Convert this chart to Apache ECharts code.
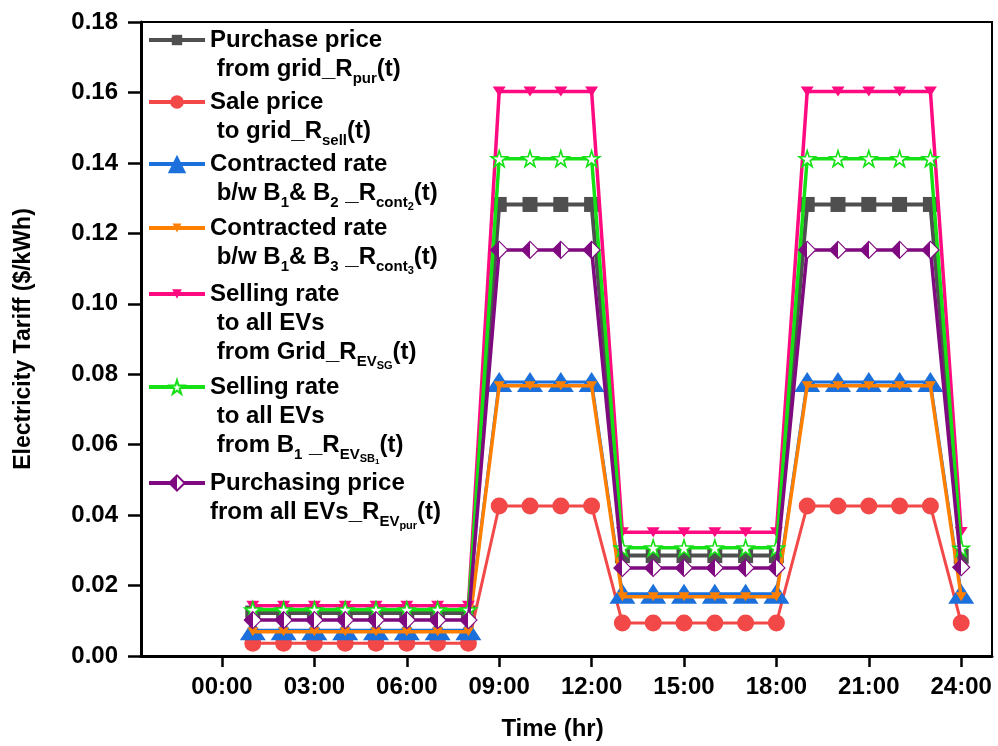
<!DOCTYPE html>
<html>
<head>
<meta charset="utf-8">
<title>Electricity Tariff</title>
<script src="https://cdn.jsdelivr.net/npm/echarts@6/dist/echarts.min.js"></script>
<style>
  html, body { margin: 0; padding: 0; background: #fff; }
  #chart { width: 998px; height: 746px; }
</style>
</head>
<body>
<div id="chart"></div>
<script>
// Hour of day for each tariff sample
const hours = [1, 2, 3, 4, 5, 6, 7, 8, 9, 10, 11, 12, 13, 14, 15, 16, 17, 18, 19, 20, 21, 22, 23, 24];
const hourTicks = [0, 3, 6, 9, 12, 15, 18, 21, 24];
const tariffTicks = [0, 0.02, 0.04, 0.06, 0.08, 0.10, 0.12, 0.14, 0.16, 0.18];

// Tariffs in $/kWh
const purchaseFromGrid = [0.0122, 0.0122, 0.0122, 0.0122, 0.0122, 0.0122, 0.0122, 0.0122,
  0.1282, 0.1282, 0.1282, 0.1282, 0.0285, 0.0285, 0.0285, 0.0285, 0.0285, 0.0285,
  0.1282, 0.1282, 0.1282, 0.1282, 0.1282, 0.0283];
const saleToGrid = [0.0036, 0.0036, 0.0036, 0.0036, 0.0036, 0.0036, 0.0036, 0.0036,
  0.0426, 0.0426, 0.0426, 0.0426, 0.0094, 0.0094, 0.0094, 0.0094, 0.0094, 0.0094,
  0.0426, 0.0426, 0.0426, 0.0426, 0.0426, 0.0094];
const contractB1B2 = [0.0073, 0.0073, 0.0073, 0.0073, 0.0073, 0.0073, 0.0073, 0.0073,
  0.0778, 0.0778, 0.0778, 0.0778, 0.0177, 0.0177, 0.0177, 0.0177, 0.0177, 0.0177,
  0.0778, 0.0778, 0.0778, 0.0778, 0.0778, 0.0177];
const contractB1B3 = [0.0069, 0.0069, 0.0069, 0.0069, 0.0069, 0.0069, 0.0069, 0.0069,
  0.0767, 0.0767, 0.0767, 0.0767, 0.0168, 0.0168, 0.0168, 0.0168, 0.0168, 0.0168,
  0.0767, 0.0767, 0.0767, 0.0767, 0.0767, 0.0168];
const evSellGrid = [0.0143, 0.0143, 0.0143, 0.0143, 0.0143, 0.0143, 0.0143, 0.0143,
  0.1603, 0.1603, 0.1603, 0.1603, 0.0351, 0.0351, 0.0351, 0.0351, 0.0351, 0.0351,
  0.1603, 0.1603, 0.1603, 0.1603, 0.1603, 0.0352];
const evSellB1 = [0.0131, 0.0131, 0.0131, 0.0131, 0.0131, 0.0131, 0.0131, 0.0131,
  0.1412, 0.1412, 0.1412, 0.1412, 0.0307, 0.0307, 0.0307, 0.0307, 0.0307, 0.0307,
  0.1412, 0.1412, 0.1412, 0.1412, 0.1412, 0.0306];
const evPurchase = [0.0102, 0.0102, 0.0102, 0.0102, 0.0102, 0.0102, 0.0102, 0.0102,
  0.1153, 0.1153, 0.1153, 0.1153, 0.0250, 0.0250, 0.0250, 0.0250, 0.0250, 0.0250,
  0.1153, 0.1153, 0.1153, 0.1153, 0.1153, 0.0252];

const seriesNames = [
  'Purchase price from grid',
  'Sale price to grid',
  'Contracted rate b/w B1 & B2',
  'Contracted rate b/w B1 & B3',
  'Selling rate to all EVs from Grid',
  'Selling rate to all EVs from B1',
  'Purchasing price from all EVs'
];

// Legend text, one entry per line, with rich-text subscripts
const legendLines = [
  ['{m|Purchase price}', '{m| from grid_R}{s|pur}{m|(t)}'],
  ['{m|Sale price}', '{m| to grid_R}{s|sell}{m|(t)}'],
  ['{m|Contracted rate}', '{m| b/w B}{s|1}{m|& B}{s|2}{m| _R}{s|cont}{ss|2}{m|(t)}'],
  ['{m|Contracted rate}', '{m| b/w B}{s|1}{m|& B}{s|3}{m| _R}{s|cont}{ss|3}{m|(t)}'],
  ['{m|Selling rate}', '{m| to all EVs}', '{m| from Grid_R}{s|EV}{ss|SG}{m|(t)}'],
  ['{m|Selling rate}', '{m| to all EVs}', '{m| from B}{s|1}{m| _R}{s|EV}{ss|SB}{sss|1}{m|(t)}'],
  ['{m|Purchasing price}', '{m|from all EVs_R}{s|EV}{ss|pur}{m|(t)}']
];

const FONT = '"Liberation Sans", Arial, Helvetica, sans-serif';
const LINE_H = 29;

const colors = {
  grey: '#4f4f4f',
  red: '#f24848',
  blue: '#1b70dc',
  orange: '#ff8000',
  pink: '#ff0a80',
  green: '#16e016',
  purple: '#7f0a80'
};

const starPath = 'path://M50,0 L61.2,34.5 L97.6,34.5 L68.2,55.9 L79.4,90.5 L50,69.1 L20.6,90.5 L31.8,55.9 L2.4,34.5 L38.8,34.5 Z';

const halfDiamondFill = {
  type: 'linear', x: 0, y: 0, x2: 1, y2: 0,
  colorStops: [
    { offset: 0, color: colors.purple },
    { offset: 0.5, color: colors.purple },
    { offset: 0.5, color: '#ffffff' },
    { offset: 1, color: '#ffffff' }
  ]
};

function pairs(values) {
  return hours.map((h, i) => [h, values[i]]);
}

const seriesDefs = [
  { data: purchaseFromGrid, color: colors.grey, symbol: 'rect', size: 15, width: 4,
    item: { color: colors.grey }, legendH: 13 },
  { data: saleToGrid, color: colors.red, symbol: 'circle', size: 17, width: 3,
    item: { color: colors.red }, legendH: 17 },
  { data: contractB1B2, color: colors.blue, symbol: 'triangle', size: [26, 20], width: 3,
    item: { color: colors.blue }, legendH: 23 },
  { data: contractB1B3, color: colors.orange, symbol: 'triangle', size: [11, 9], rotate: 180, width: 3.5,
    item: { color: colors.orange }, legendH: 11 },
  { data: evSellGrid, color: colors.pink, symbol: 'triangle', size: [13, 10], rotate: 180, width: 3.5,
    item: { color: colors.pink }, legendH: 12 },
  { data: evSellB1, color: colors.green, symbol: starPath, size: 16, width: 3.5,
    item: { color: '#ffffff', borderColor: colors.green, borderWidth: 1.6 }, legendH: 17 },
  { data: evPurchase, color: colors.purple, symbol: 'diamond', size: 17, width: 3.5,
    item: { color: halfDiamondFill, borderColor: colors.purple, borderWidth: 1.2 }, legendH: 19 }
];

const series = seriesDefs.map((d, i) => ({
  name: seriesNames[i],
  type: 'line',
  data: pairs(d.data),
  symbol: d.symbol,
  symbolSize: d.size,
  symbolRotate: d.rotate || 0,
  showAllSymbol: true,
  lineStyle: { color: d.color, width: d.width },
  itemStyle: d.item,
  emphasis: { disabled: true },
  z: 2 + i
}));

// Vertical centre of the first text line of each legend entry
const legendCenters = [40, 102, 164, 228, 294, 387, 483];

const richStyles = {
  m: { fontSize: 24, fontWeight: 'bold', fontFamily: FONT, color: '#000', lineHeight: LINE_H },
  s: { fontSize: 15, fontWeight: 'bold', fontFamily: FONT, color: '#000', height: 9, verticalAlign: 'bottom' },
  ss: { fontSize: 11, fontWeight: 'bold', fontFamily: FONT, color: '#000', height: 1, verticalAlign: 'bottom' },
  sss: { fontSize: 8, fontWeight: 'bold', fontFamily: FONT, color: '#000', height: -5, verticalAlign: 'bottom' }
};

const legends = seriesNames.map((name, i) => {
  const lines = legendLines[i];
  const n = lines.length;
  // blank lines above keep the icon level with the first text line
  const pad = [];
  for (let k = 0; k < n - 1; k++) pad.push('{m| }');
  const text = pad.concat(lines).join('\n');
  return {
    data: [name],
    left: 147,
    top: legendCenters[i] - (2 * n - 1) * LINE_H / 2,
    padding: 0,
    itemWidth: 56,
    itemHeight: seriesDefs[i].legendH,
    selectedMode: false,
    lineStyle: { width: 4 },
    formatter: () => text,
    textStyle: {
      fontFamily: FONT, fontSize: 24, fontWeight: 'bold', color: '#000',
      lineHeight: LINE_H, rich: richStyles
    }
  };
});

const axisFont = { fontFamily: FONT, fontSize: 24, fontWeight: 'bold', color: '#000' };

const chart = echarts.init(document.getElementById('chart'), null, { renderer: 'canvas' });
chart.setOption({
  animation: false,
  backgroundColor: '#ffffff',
  grid: {
    left: 141, right: 6, top: 22, bottom: 90,
    show: true, borderColor: '#000', borderWidth: 2, backgroundColor: 'transparent'
  },
  legend: legends,
  xAxis: {
    type: 'value',
    min: -2.63,
    max: 25,
    name: 'Time (hr)',
    nameLocation: 'middle',
    nameGap: 61,
    nameTextStyle: Object.assign({}, axisFont, { padding: [0, 28, 0, 0] }),
    axisLine: { show: true, onZero: false, lineStyle: { color: '#000', width: 3 } },
    axisTick: { show: true, length: 11, customValues: hourTicks, lineStyle: { color: '#000', width: 2.5 } },
    axisLabel: Object.assign({}, axisFont, {
      margin: 19,
      customValues: hourTicks,
      formatter: v => String(v).padStart(2, '0') + ':00'
    }),
    splitLine: { show: false }
  },
  yAxis: {
    type: 'value',
    min: tariffTicks[0],
    max: tariffTicks[tariffTicks.length - 1],
    interval: 0.02,
    name: 'Electricity Tariff ($/kWh)',
    nameLocation: 'middle',
    nameGap: 106,
    nameTextStyle: Object.assign({}, axisFont, { fontSize: 23 }),
    axisLine: { show: true, onZero: false, lineStyle: { color: '#000', width: 3 } },
    axisTick: { show: true, length: 13, lineStyle: { color: '#000', width: 2.5 } },
    axisLabel: Object.assign({}, axisFont, {
      margin: 23,
      formatter: v => v.toFixed(2)
    }),
    splitLine: { show: false }
  },
  series: series
});
</script>
</body>
</html>
